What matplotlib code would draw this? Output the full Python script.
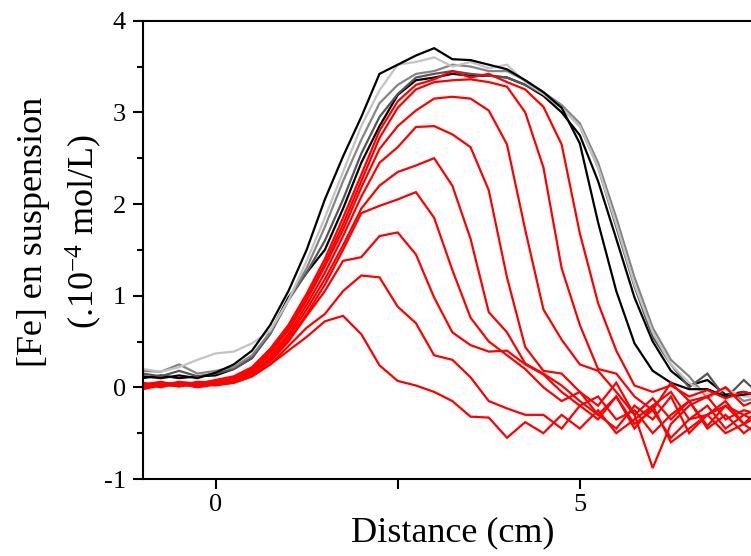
import numpy as np
import matplotlib
matplotlib.use("Agg")
import matplotlib.pyplot as plt

plt.rcParams['font.family'] = ['Liberation Serif', 'DejaVu Serif']
plt.rcParams['mathtext.fontset'] = 'custom'
plt.rcParams['mathtext.rm'] = 'Liberation Serif'
plt.rcParams['mathtext.default'] = 'regular'
plt.rcParams['axes.unicode_minus'] = False

# Distance (cm)
distance = [-1.0, -0.75, -0.5, -0.25, 0.0, 0.25, 0.5, 0.75, 1.0, 1.25, 1.5, 1.75,
            2.0, 2.25, 2.5, 2.75, 3.0, 3.25, 3.5, 3.75, 4.0, 4.25, 4.5, 4.75,
            5.0, 5.25, 5.5, 5.75, 6.0, 6.25, 6.5, 6.75, 7.0, 7.25, 7.5]

# grey / black profiles
k1_black = [0.12, 0.10, 0.13, 0.10, 0.16, 0.25, 0.40, 0.68, 1.05, 1.50, 2.05, 2.52,
            2.95, 3.42, 3.52, 3.62, 3.70, 3.58, 3.57, 3.52, 3.47, 3.35, 3.22, 3.05,
            2.66, 1.80, 1.05, 0.48, 0.18, 0.05, -0.02, -0.02, -0.10, -0.08, -0.05]
g1_light = [0.20, 0.17, 0.22, 0.30, 0.37, 0.39, 0.48, 0.62, 0.95, 1.38, 1.85, 2.35,
            2.85, 3.24, 3.52, 3.55, 3.60, 3.50, 3.55, 3.48, 3.52, 3.33, 3.20, 3.05,
            2.85, 2.40, 1.78, 1.12, 0.60, 0.25, 0.05, -0.08, -0.02, -0.10, -0.10]
g2_mid = [0.18, 0.17, 0.25, 0.15, 0.18, 0.22, 0.35, 0.60, 0.95, 1.30, 1.75, 2.25,
          2.70, 3.10, 3.30, 3.42, 3.45, 3.52, 3.50, 3.45, 3.45, 3.35, 3.22, 3.08,
          2.88, 2.45, 1.85, 1.20, 0.65, 0.30, 0.12, -0.12, 0.00, -0.15, -0.10]
g3_dark = [0.15, 0.12, 0.18, 0.12, 0.15, 0.20, 0.32, 0.58, 0.95, 1.25, 1.60, 2.05,
           2.55, 2.95, 3.20, 3.38, 3.42, 3.45, 3.42, 3.40, 3.38, 3.30, 3.20, 3.05,
           2.85, 2.40, 1.75, 1.10, 0.55, 0.25, 0.00, 0.15, -0.12, 0.08, -0.10]
k2_black = [0.10, 0.13, 0.10, 0.12, 0.13, 0.20, 0.32, 0.60, 0.98, 1.25, 1.50, 1.95,
            2.45, 2.85, 3.19, 3.35, 3.38, 3.42, 3.40, 3.40, 3.38, 3.30, 3.18, 3.00,
            2.75, 2.25, 1.62, 0.98, 0.50, 0.18, 0.02, 0.08, -0.08, -0.05, -0.10]

# red profiles
r1 = [0.05, 0.02, 0.06, 0.04, 0.08, 0.12, 0.22, 0.42, 0.68, 1.02, 1.40, 1.85,
      2.32, 2.80, 3.12, 3.30, 3.36, 3.45, 3.38, 3.42, 3.33, 3.25, 3.06, 2.65,
      1.68, 0.92, 0.40, 0.02, -0.05, 0.02, -0.10, -0.03, -0.12, -0.05, -0.10]
r2 = [0.03, 0.06, 0.02, 0.05, 0.06, 0.10, 0.20, 0.40, 0.65, 0.98, 1.35, 1.78,
      2.25, 2.72, 3.05, 3.25, 3.33, 3.35, 3.36, 3.33, 3.28, 3.00, 2.40, 1.30,
      0.68, 0.20, 0.15, -0.10, -0.25, 0.05, -0.15, -0.10, 0.00, -0.20, -0.12]
r3 = [0.03, 0.05, 0.02, 0.06, 0.05, 0.10, 0.20, 0.38, 0.62, 0.95, 1.32, 1.72,
      2.18, 2.60, 2.85, 3.02, 3.15, 3.17, 3.15, 3.02, 2.65, 1.72, 0.85, 0.52,
      0.25, 0.18, -0.05, -0.30, -0.12, -0.35, -0.15, -0.42, -0.20, -0.30, -0.22]
r4 = [0.02, 0.04, 0.01, 0.05, 0.04, 0.08, 0.18, 0.35, 0.58, 0.90, 1.25, 1.65,
      2.08, 2.45, 2.62, 2.84, 2.85, 2.76, 2.62, 2.15, 1.20, 0.44, 0.18, 0.15,
      -0.05, -0.20, 0.05, -0.30, -0.88, -0.40, -0.20, -0.10, -0.35, -0.25, -0.30]
r5 = [0.04, 0.00, 0.05, 0.02, 0.06, 0.08, 0.16, 0.32, 0.55, 0.85, 1.18, 1.55,
      1.95, 2.20, 2.35, 2.42, 2.50, 2.20, 1.62, 0.82, 0.60, 0.26, 0.15, 0.02,
      -0.15, -0.30, -0.10, -0.45, -0.20, -0.05, -0.35, -0.30, -0.15, -0.40, -0.20]
r6 = [0.02, 0.05, 0.03, 0.01, 0.05, 0.07, 0.15, 0.30, 0.52, 0.80, 1.12, 1.50,
      1.90, 1.98, 2.05, 2.13, 1.85, 1.28, 0.76, 0.50, 0.35, 0.20, 0.00, -0.15,
      -0.05, -0.30, -0.45, -0.20, -0.35, -0.10, -0.50, -0.30, -0.20, -0.40, -0.30]
r7 = [0.01, 0.03, 0.05, 0.02, 0.03, 0.06, 0.14, 0.28, 0.50, 0.78, 1.05, 1.38,
      1.42, 1.65, 1.69, 1.45, 0.98, 0.60, 0.46, 0.39, 0.40, 0.25, 0.14, -0.05,
      -0.20, -0.10, -0.35, -0.25, -0.50, -0.30, -0.15, -0.45, -0.30, -0.50, -0.35]
r8 = [0.00, 0.03, 0.01, 0.04, 0.02, 0.05, 0.12, 0.25, 0.45, 0.65, 0.80, 1.05,
      1.22, 1.20, 0.88, 0.70, 0.35, 0.30, 0.11, -0.15, -0.23, -0.30, -0.30, -0.45,
      -0.20, -0.35, -0.10, -0.40, -0.25, -0.55, -0.35, -0.20, -0.45, -0.30, -0.40]
r9 = [-0.02, 0.02, 0.04, 0.00, 0.03, 0.05, 0.12, 0.25, 0.40, 0.55, 0.72, 0.78,
      0.58, 0.24, 0.07, 0.02, -0.05, -0.15, -0.32, -0.33, -0.55, -0.38, -0.50, -0.30,
      -0.45, -0.25, -0.50, -0.35, -0.20, -0.60, -0.45, -0.30, -0.50, -0.40, -0.55]

grey_series = [(k2_black, '#000000'), (g3_dark, '#555555'), (g2_mid, '#858585'),
               (g1_light, '#c3c3c3'), (k1_black, '#000000')]
red_series = [r1, r2, r3, r4, r5, r6, r7, r8, r9]

fig = plt.figure(figsize=(7.51, 5.56), dpi=100)
W, H = 751.0, 556.0
ax_left, ax_right = 142.7, 762.0
ax_top, ax_bottom = 20.7, 479.0
ax = fig.add_axes([ax_left / W, 1 - ax_bottom / H, (ax_right - ax_left) / W,
                   (ax_bottom - ax_top) / H])

for ys, c in grey_series:
    ax.plot(distance, ys, color=c, lw=1.6, solid_joinstyle='miter')
for ys in red_series:
    ax.plot(distance, ys, color='#ff0000', lw=1.6, solid_joinstyle='miter')

ax.set_xlim(-1, 7.5)
ax.set_ylim(-1, 4)
ax.set_xticks([0, 2.5, 5])
ax.set_xticklabels(['0', '', '5'])
ax.set_yticks([-1, 0, 1, 2, 3, 4])
ax.set_yticks(np.arange(-0.5, 4, 1.0), minor=True)
ax.tick_params(axis='x', direction='out', length=7, width=1.5, labelsize=19, pad=4)
ax.tick_params(axis='y', which='major', direction='out', length=7, width=1.5,
               labelsize=19, pad=5)
ax.tick_params(axis='y', which='minor', direction='out', length=4, width=1.5)
for s in ax.spines.values():
    s.set_linewidth(1.5)

ax.set_xlabel('Distance (cm)', fontsize=26, labelpad=0)

fig.text(34 / W, 1 - 232 / H, '[Fe] en suspension', rotation=90, fontsize=26,
         ha='center', va='center')
fig.text(84 / W, 1 - 232 / H, r'(.10$^{-4}$ mol/L)', rotation=90, fontsize=26,
         ha='center', va='center')

fig.savefig('out.png', dpi=100)
